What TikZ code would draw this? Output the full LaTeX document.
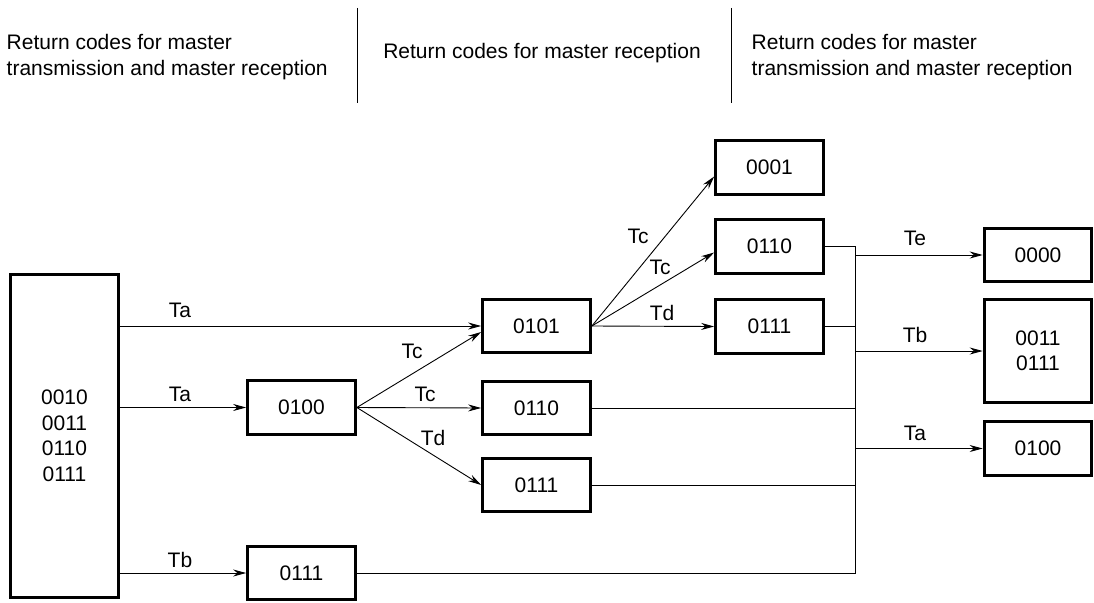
\documentclass[tikz,border=0pt]{standalone}
\usepackage{fontspec}
\setmainfont{Liberation Sans}
\usetikzlibrary{arrows.meta,calc}
\begin{document}
\begin{tikzpicture}[x=1pt,y=-1pt,
  box/.style={draw,line width=3.2pt,minimum width=107.5pt,minimum height=53.5pt,inner sep=0pt,align=center,font=\fontsize{21}{25.5}\selectfont},
  conn/.style={line width=0.9pt},
  arr/.style={conn,-{Stealth[length=13pt,width=7pt]}},
  lbl/.style={font=\fontsize{21}{25}\selectfont,inner sep=0pt},
  hdr/.style={font=\fontsize{21}{25.5}\selectfont,inner sep=0pt,align=left},
  sep/.style={line width=0.9pt}]
\useasboundingbox (0,0) rectangle (1094,602);
% header
\node[hdr,anchor=north west] (h1) at (6.5,34.5) {Return codes for master\\transmission and master reception};
\node[hdr,anchor=base] (h2) at (542,59) {Return codes for master reception};
\node[hdr,anchor=north west] (h3) at (751.5,34.5) {Return codes for master\\transmission and master reception};
\coordinate (s1t) at (357,8); \coordinate (s1b) at (357,103);
\coordinate (s2t) at (731,8); \coordinate (s2b) at (731,103);
\draw[sep] (s1t) -- (s1b);
\draw[sep] (s2t) -- (s2b);
% boxes
\node[box,minimum height=323pt] (big) at (64.5,436) {0010\\0011\\0110\\0111};
\node[box] (b0100) at (301.5,407.5) {0100};
\node[box] (b0111bot) at (301.5,573) {0111};
\node[box] (b0101) at (536.5,326) {0101};
\node[box] (b0110m) at (536.5,408) {0110};
\node[box] (b0111m) at (536.5,485) {0111};
\node[box] (b0001) at (769.5,167.5) {0001};
\node[box] (b0110t) at (769.5,246.5) {0110};
\node[box] (b0111t) at (769.5,326.5) {0111};
\node[box] (b0000) at (1038,255) {0000};
\node[box,minimum height=103pt] (b0011) at (1038,351) {0011\\0111};
\node[box] (b0100r) at (1038,448.5) {0100};
% connectors from big box
\draw[arr] (big.east |- b0101.west) -- (b0101.west);
\draw[arr] (big.east |- b0100.west) -- (b0100.west);
\draw[arr] (big.east |- b0111bot.west) -- (b0111bot.west);
\node[lbl] (lTa1) at (180,310.5) {Ta};
\node[lbl] (lTa2) at (180,394.5) {Ta};
\node[lbl] (lTb1) at (180,560) {Tb};
% fan from 0100
\draw[arr] (b0100.east) -- ([yshift=-6pt]b0101.west);
\draw[arr] (b0100.east) -- (b0110m.west);
\draw[arr] (b0100.east) -- (b0111m.west);
\node[lbl] (lTc1) at (412,351) {Tc};
\node[lbl] (lTc2) at (425,394) {Tc};
\node[lbl] (lTd1) at (433,438) {Td};
% fan from 0101
\draw[arr] (b0101.east) -- ([yshift=-9pt]b0001.west);
\draw[arr] (b0101.east) -- ([yshift=-6pt]b0110t.west);
\draw[arr] (b0101.east) -- (b0111t.west);
\node[lbl] (lTc3) at (638,236) {Tc};
\node[lbl] (lTc4) at (660,267) {Tc};
\node[lbl] (lTd2) at (662,313) {Td};
% bus
\coordinate (bus) at (855,0);
\coordinate (busbot) at (bus |- b0111bot.east);
\draw[conn] (b0110t.east) -| (busbot) -- (b0111bot.east);
\draw[conn] (b0111t.east) -- (b0111t.east -| bus);
\draw[conn] (b0110m.east) -- (b0110m.east -| bus);
\draw[conn] (b0111m.east) -- (b0111m.east -| bus);
\draw[arr] (bus |- b0000.west) -- (b0000.west);
\draw[arr] (bus |- b0011.west) -- (b0011.west);
\draw[arr] (bus |- b0100r.west) -- (b0100r.west);
\node[lbl] (lTe) at (915,238) {Te};
\node[lbl] (lTb2) at (915,335) {Tb};
\node[lbl] (lTa3) at (915,433) {Ta};
\end{tikzpicture}
\end{document}
